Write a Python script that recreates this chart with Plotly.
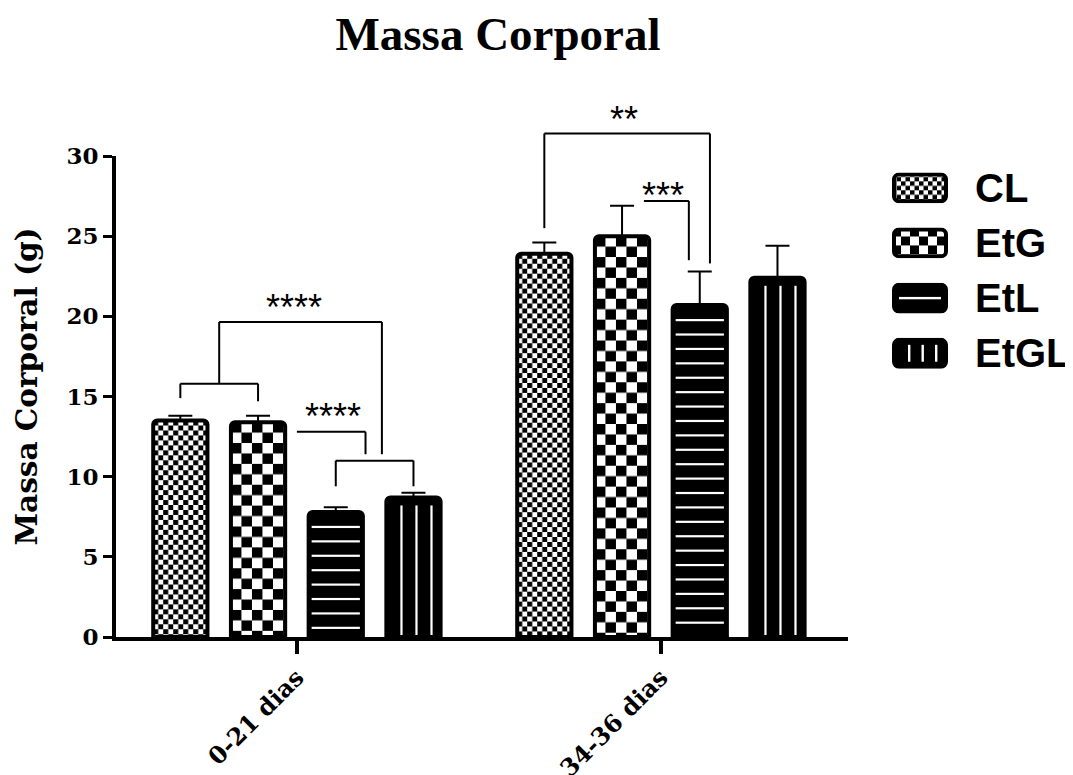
import base64
import plotly.graph_objects as go

# ---------------- data ----------------
groups = ["0-21 dias", "34-36 dias"]
group_pos = [0, 1]
series = ["CL", "EtG", "EtL", "EtGL"]
cl_mean = [13.5, 23.9]
etg_mean = [13.4, 25.0]
etl_mean = [7.8, 20.7]
etgl_mean = [8.7, 22.4]
cl_err = [0.3, 0.7]
etg_err = [0.4, 1.9]
etl_err = [0.3, 2.1]
etgl_err = [0.3, 2.0]
y_ticks = [0, 5, 10, 15, 20, 25, 30]

means = [cl_mean, etg_mean, etl_mean, etgl_mean]
errs = [cl_err, etg_err, etl_err, etgl_err]

# ---------------- layout constants ----------------
W, H = 1073, 775
ML, MR, MT, MB = 108, 0, 148, 143
PLOT_W = W - ML - MR
PLOT_H = H - MT - MB
XDOM_END = 732 / PLOT_W
XR = [-0.497, 1.514]
YR = [0, 30]
BARGAP = 0.146
BARGROUPGAP = 0.302
slot = (1 - BARGAP) / len(series)
bar_w = slot * (1 - BARGROUPGAP)
PX_X = PLOT_W * XDOM_END / (XR[1] - XR[0])
PX_Y = PLOT_H / (YR[1] - YR[0])


def bar_x(g, i):
    return group_pos[g] + (i - (len(series) - 1) / 2) * slot


def xd(v):
    return (v - XR[0]) / (XR[1] - XR[0])


def yd(v):
    return (v - YR[0]) / (YR[1] - YR[0])


# ---------------- fill textures (svg) ----------------
def svg_uri(w, h, body):
    svg = (f'<svg xmlns="http://www.w3.org/2000/svg" width="{w:.1f}" height="{h:.1f}" '
           f'viewBox="0 0 {w:.1f} {h:.1f}" preserveAspectRatio="none">{body}</svg>')
    return "data:image/svg+xml;base64," + base64.b64encode(svg.encode()).decode()


def checker(w, h, sq):
    return (f'<defs><pattern id="p" width="{2*sq}" height="{2*sq}" patternUnits="userSpaceOnUse">'
            f'<rect width="{2*sq}" height="{2*sq}" fill="white"/>'
            f'<rect width="{sq}" height="{sq}" fill="black"/>'
            f'<rect x="{sq}" y="{sq}" width="{sq}" height="{sq}" fill="black"/></pattern></defs>'
            f'<rect width="{w}" height="{h}" fill="url(#p)"/>')


def hlines(w, h, gap, first, th=2.2, inset=3):
    body = f'<rect width="{w}" height="{h}" fill="black"/>'
    y = first
    while y < h - 5:
        body += f'<rect x="{inset}" y="{y:.1f}" width="{w-2*inset:.1f}" height="{th}" fill="white"/>'
        y += gap
    return body


def vlines(w, h, xs, top, th=2.2, bottom=0):
    body = f'<rect width="{w}" height="{h}" fill="black"/>'
    for x in xs:
        body += f'<rect x="{x:.1f}" y="{top}" width="{th}" height="{max(h-top-bottom,0):.1f}" fill="white"/>'
    return body


def fill_body(i, w, h):
    if i == 0:
        return checker(w, h, 5)
    if i == 1:
        return checker(w, h, 10.5)
    if i == 2:
        return hlines(w, h, 14.5, 14)
    return vlines(w, h, [14, 29, 44], 8)


fig = go.Figure()
images = []
for i, name in enumerate(series):
    fig.add_trace(go.Bar(
        x=group_pos, y=means[i], name=name, showlegend=False,
        marker=dict(color="rgba(0,0,0,0)", line=dict(color="black", width=4), cornerradius=4),
        error_y=dict(type="data", array=errs[i], arrayminus=[0, 0], symmetric=False,
                     color="black", thickness=2, width=12),
    ))
    for g in range(len(group_pos)):
        wpx = bar_w * PX_X
        hpx = means[i][g] * PX_Y
        images.append(dict(source=svg_uri(wpx, hpx, fill_body(i, wpx, hpx)),
                           xref="x", yref="y", x=bar_x(g, i), y=0,
                           xanchor="center", yanchor="bottom",
                           sizex=bar_w, sizey=means[i][g], sizing="stretch", layer="below"))


# ---------------- legend (swatches + labels) ----------------
def xp(px):
    return (px - 116) / PLOT_W


def yp(py):
    return (640 - py) / PLOT_H


LW, LH = 56, 31
for i, name in enumerate(series):
    if i == 0:
        inner = checker(LW, LH, 4.5)
    elif i == 1:
        inner = checker(LW, LH, 9)
    elif i == 2:
        inner = f'<rect width="{LW}" height="{LH}" fill="black"/><rect x="7" y="{LH/2-1.2}" width="{LW-14}" height="2.4" fill="white"/>'
    else:
        inner = vlines(LW, LH, [16, 29.5, 43], 7, th=2.4, bottom=7)
    body = (f'<clipPath id="c"><rect x="2" y="2" width="{LW-4}" height="{LH-4}" rx="5"/></clipPath>'
            f'<g clip-path="url(#c)">{inner}</g>'
            f'<rect x="2" y="2" width="{LW-4}" height="{LH-4}" rx="5" fill="none" stroke="black" stroke-width="4"/>')
    cy = 188 + 55.5 * i
    images.append(dict(source=svg_uri(LW, LH, body), xref="paper", yref="paper",
                       x=xp(892), y=yp(cy), xanchor="left", yanchor="middle",
                       sizex=LW / PLOT_W, sizey=LH / PLOT_H, sizing="stretch", layer="above"))

shapes = []
annotations = []

for i, name in enumerate(series):
    annotations.append(dict(text=name, xref="paper", yref="paper", x=xp(973), y=yp(188 + 55.5 * i),
                            xanchor="left", yanchor="middle", showarrow=False,
                            font=dict(family="Liberation Sans", size=40, color="black",
                                      weight="bold")))


def seg(x0, y0, x1, y1):
    shapes.append(dict(type="line", xref="x domain", yref="y domain",
                       x0=xd(x0), y0=yd(y0), x1=xd(x1), y1=yd(y1),
                       line=dict(color="black", width=2)))


def bracket(xa, xb, h, ya, yb):
    seg(xa, ya, xa, h)
    seg(xa, h, xb, h)
    seg(xb, h, xb, yb)


STAR_DY = 0.43


def stars(text, x, y):
    annotations.append(dict(text=text, xref="x domain", yref="y domain",
                            x=xd(x), y=yd(y - STAR_DY), xanchor="center", yanchor="middle",
                            showarrow=False,
                            font=dict(family="Liberation Sans", size=36, color="black")))


# group 1 brackets
b1_l, b1_r = bar_x(0, 0), bar_x(0, 1)
b2_l, b2_r = bar_x(0, 2), bar_x(0, 3)
b2_m = (b2_l + b2_r) / 2
bracket(b1_l, b1_r, 15.8, 14.9, 14.7)
bracket(b2_l, b2_r, 11.0, 9.4, 9.4)
bracket((b1_l + b1_r) / 2, b2_m + 0.02, 19.65, 15.8, 11.4)
seg(group_pos[0], 12.8, b2_m - 0.025, 12.8)
seg(b2_m - 0.025, 12.8, b2_m - 0.025, 11.4)
stars("****", -0.008, 21.0)
stars("****", 0.099, 14.2)

# group 2 brackets
bracket(bar_x(1, 0), bar_x(1, 2) + 0.028, 31.4, 25.5, 23.3)
seg(bar_x(1, 1) + 0.06, 27.2, bar_x(1, 2) - 0.03, 27.2)
seg(bar_x(1, 2) - 0.03, 27.2, bar_x(1, 2) - 0.03, 23.5)
stars("**", 0.898, 32.73)
stars("***", 1.005, 27.96)

# y-axis title
annotations.append(dict(text="Massa Corporal (g)", xref="paper", yref="paper",
                        x=xp(27), y=yp(388), textangle=-90, showarrow=False,
                        xanchor="center", yanchor="middle",
                        font=dict(family="DejaVu Serif", size=29.5, color="black",
                                  weight="bold")))

fig.update_layout(
    width=W, height=H,
    margin=dict(l=ML, r=MR, t=MT, b=MB),
    paper_bgcolor="white", plot_bgcolor="white",
    barmode="group", bargap=BARGAP, bargroupgap=BARGROUPGAP,
    title=dict(text="Massa Corporal", x=490 / W, xref="container", xanchor="center",
               y=1 - 26 / H, yanchor="middle",
               font=dict(family="Liberation Serif", size=47, color="black", weight="bold")),
    xaxis=dict(domain=[0, XDOM_END], range=XR, showline=True, linewidth=4, linecolor="black",
               ticks="outside", ticklen=13, tickwidth=4, tickcolor="black",
               tickvals=group_pos, ticktext=groups, tickangle=-45,
               showgrid=False, zeroline=False,
               tickfont=dict(family="DejaVu Serif", size=24, color="black", weight="bold")),
    yaxis=dict(range=YR, showline=True, linewidth=4, linecolor="black",
               ticks="outside", ticklen=9, tickwidth=3, tickcolor="black",
               tickvals=y_ticks, showgrid=False, zeroline=False,
               tickfont=dict(family="DejaVu Serif", size=23, color="black", weight="bold")),
    images=images,
    shapes=shapes,
    annotations=annotations,
)

fig.write_html("out.html")
